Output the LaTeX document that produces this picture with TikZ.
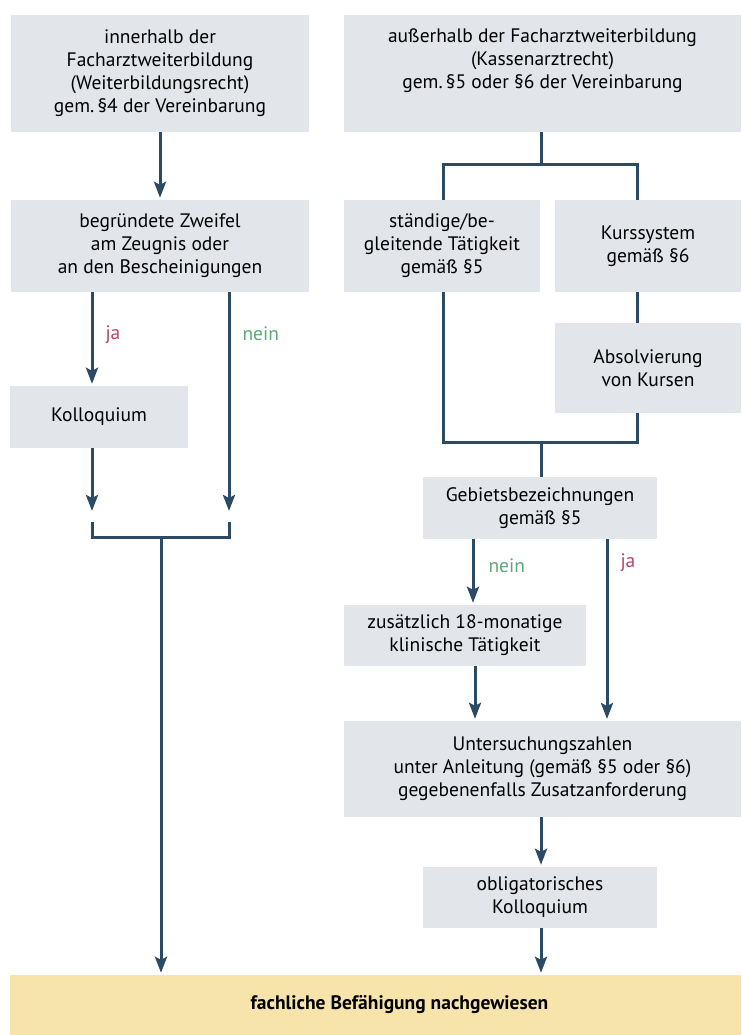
\documentclass[tikz,border=0pt]{standalone}
\usepackage{fontspec}
\setmainfont{PT Sans}
\usetikzlibrary{arrows.meta}
\definecolor{boxgray}{HTML}{E2E6EA}
\definecolor{boxyellow}{HTML}{F7E4AA}
\definecolor{linecol}{HTML}{2B4A63}
\definecolor{jacol}{HTML}{B8416A}
\definecolor{neincol}{HTML}{5FA87A}
\begin{document}
\begin{tikzpicture}[x=1pt,y=-1pt,
  box/.style={fill=boxgray, inner sep=0pt, align=center, font=\fontsize{19.5}{23}\selectfont},
  finalbox/.style={fill=boxyellow, inner sep=0pt, align=center, font=\fontsize{19.5}{23}\selectfont\bfseries},
  conn/.style={draw=linecol, line width=3pt},
  arr/.style={conn, -{Stealth[length=16pt,width=12pt,inset=3pt]}, shorten >=2pt},
  jalab/.style={text=jacol, font=\fontsize{19.5}{23}\selectfont, inner sep=0pt},
  neinlab/.style={text=neincol, font=\fontsize{19.5}{23}\selectfont, inner sep=0pt}]
\useasboundingbox (0,0) rectangle (741,1035);
% boxes
\node[box, minimum width=298pt, minimum height=117pt] (inner) at (160,73.5)
  {innerhalb der\\Facharztweiterbildung\\(Weiterbildungsrecht)\\gem.\,§4 der Vereinbarung};
\node[box, minimum width=397pt, minimum height=117pt] (outer) at (542.5,73.5)
  {außerhalb der Facharztweiterbildung\\(Kassenarztrecht)\\gem.\,§5 oder §6 der Vereinbarung\\\strut};
\node[box, minimum width=298pt, minimum height=92pt] (zweifel) at (160,246)
  {begründete Zweifel\\am Zeugnis oder\\an den Bescheinigungen};
\node[box, minimum width=196pt, minimum height=92pt] (staendig) at (442,246)
  {ständige/be-\\gleitende Tätigkeit\\gemäß §5};
\node[box, minimum width=186pt, minimum height=92pt] (kurs) at (648,246)
  {Kurssystem\\gemäß §6};
\node[box, minimum width=178pt, minimum height=62pt] (koll) at (99,417)
  {Kolloquium};
\node[box, minimum width=186pt, minimum height=90pt] (absol) at (648,368)
  {Absolvierung\\von Kursen};
\node[box, minimum width=234pt, minimum height=62pt] (gebiet) at (540,508)
  {Gebietsbezeichnungen\\gemäß §5};
\node[box, minimum width=242pt, minimum height=61pt] (zusatz) at (465,635.5)
  {zusätzlich 18-monatige\\klinische Tätigkeit};
\node[box, minimum width=397pt, minimum height=96pt] (unters) at (542.5,769)
  {Untersuchungszahlen\\unter Anleitung (gemäß §5 oder §6)\\gegebenenfalls Zusatzanforderung};
\node[box, minimum width=234pt, minimum height=61pt] (oblig) at (540,897.5)
  {obligatorisches\\Kolloquium};
\node[finalbox, minimum width=731pt, minimum height=60pt] (final) at (375.5,1005)
  {\hspace*{48pt}fachliche Befähigung nachgewiesen};
% helper coordinates
\coordinate (jaEnd) at (92,513);
\coordinate (neinEnd) at (229,513);
\coordinate (brL) at (92,522);
\coordinate (brR) at (229,522);
\coordinate (brM) at (161,537);
\coordinate (splitTop) at (541,165);
\coordinate (joinBot) at (541,442);
\coordinate (jaRight) at (607,721);
% left column
\draw[arr] (inner.south -| 160,0) -- (zweifel.north -| 160,0);
\draw[arr] (zweifel.south -| 92,0) -- node[jalab, right=12pt, pos=0.45] {ja} (koll.north -| 92,0);
\draw[arr] (koll.south -| 92,0) -- (jaEnd);
\draw[arr] (zweifel.south -| 229,0) -- node[neinlab, right=12pt, pos=0.19] {nein} (neinEnd);
\draw[conn] (brL) |- (brM) -| (brR);
\draw[arr] (brM) -- (final.north -| brM);
% right column split
\draw[conn] (outer.south -| splitTop) -- (splitTop);
\draw[conn] (staendig.north -| 443,0) |- (splitTop) -| (kurs.north -| 637,0);
\draw[conn] (kurs.south -| 637,0) -- (absol.north -| 637,0);
\draw[conn] (staendig.south -| 443,0) |- (joinBot) -| (absol.south -| 637,0);
\draw[conn] (joinBot) -- (gebiet.north -| joinBot);
% nein / ja
\draw[arr] (gebiet.south -| 473,0) -- node[neinlab, right=14pt, pos=0.4] {nein} (zusatz.north -| 473,0);
\draw[arr] (gebiet.south -| jaRight) -- node[jalab, right=12pt, pos=0.13] {ja} (jaRight);
\draw[arr] (zusatz.south -| 475,0) -- (unters.north -| 475,0);
\draw[arr] (unters.south -| 541,0) -- (oblig.north -| 541,0);
\draw[arr] (oblig.south -| 541,0) -- (final.north -| 541,0);
\end{tikzpicture}
\end{document}
